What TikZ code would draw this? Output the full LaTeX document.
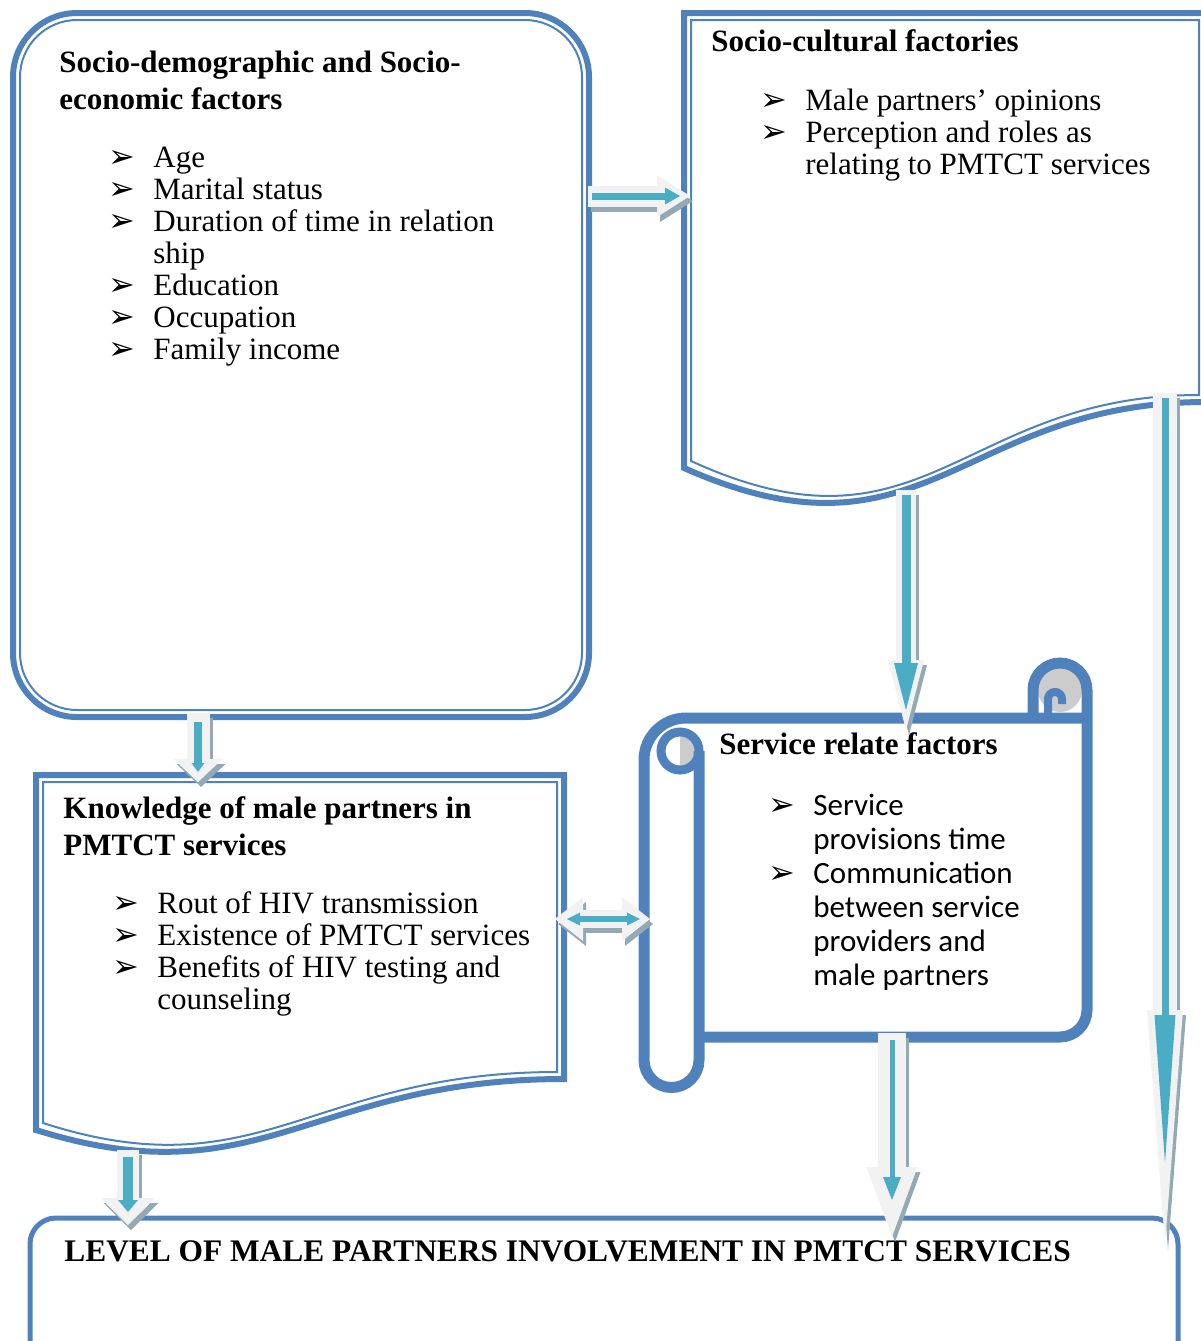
\documentclass[tikz,border=0pt]{standalone}
\usepackage{fontspec}
\setmainfont{Liberation Serif}
\newfontfamily\bulletfont{DejaVu Sans}
\newfontfamily\calibrifont{Carlito}
\usetikzlibrary{arrows.meta}

\definecolor{boxblue}{HTML}{4F81BD}
\definecolor{arrteal}{HTML}{4BACC6}
\definecolor{arrgray}{HTML}{F2F2F2}
\definecolor{arrshadow}{HTML}{93A9B4}
\definecolor{curlgray}{HTML}{CCCCCC}

\newcommand{\blt}{{\bulletfont\fontsize{16}{16}\selectfont ➢}}

\begin{document}
\begin{tikzpicture}[
  x=0.5pt, y=-0.5pt,
  outerline/.style={draw=boxblue,line width=3pt},
  innerline/.style={draw=boxblue,line width=1pt},
  scrollline/.style={draw=boxblue,line width=5.5pt},
  txt/.style={inner sep=0pt,anchor=base west},
  title/.style={txt,font=\fontsize{15.5}{18.5}\selectfont\bfseries},
  items/.style={txt,font=\fontsize{15.5}{16}\selectfont},
  sitems/.style={txt,font=\calibrifont\fontsize{15.5}{17}\selectfont},
  arrshade/.style n args={3}{draw=arrshadow,line width=#1,>={Triangle[length=#2,width=#3,line width=0pt]},->,transform canvas={shift={(1.5pt,-2.5pt)}}},
  arrbody/.style n args={3}{draw=arrgray,line width=#1,>={Triangle[length=#2,width=#3,line width=0pt]},->},
  arrcore/.style n args={3}{draw=arrteal,line width=#1,>={Triangle[length=#2,width=#3,line width=0pt]},->}
]
\useasboundingbox (0,0) rectangle (1201,1341);
\clip (0,0) rectangle (1201,1341);

% boxes
\draw[outerline,rounded corners=32pt] (13,13) rectangle (589,717);
\draw[innerline,rounded corners=28.5pt] (20,20) rectangle (582,710);

\draw[outerline] (684,13) -- (1206,13) -- (1206,402) .. controls (960,402) and (925,575) .. (684,468) -- cycle;
\draw[innerline] (691,20) -- (1199,20) -- (1199,395) .. controls (960,395) and (925,568) .. (691,461) -- cycle;

\draw[outerline] (36,775) -- (564,775) -- (564,1079) .. controls (310,1079) and (260,1200) .. (36,1130) -- cycle;
\draw[innerline] (43,782) -- (557,782) -- (557,1072) .. controls (310,1072) and (260,1193) .. (43,1123) -- cycle;

\fill[curlgray] (680,736.5) arc[start angle=90,end angle=-90,radius=7.25pt] -- cycle;
\fill[curlgray] (1060,690) circle[radius=11pt];
\draw[scrollline] (644,760) -- (644,1060) arc[start angle=180,end angle=360,radius=13.75pt] -- (699,751);
\draw[scrollline] (644,760) arc[start angle=180,end angle=90,radius=21pt] -- (1087,718);
\draw[scrollline] (699,1037) -- (1060,1037) arc[start angle=270,end angle=360,radius=13.5pt]
  -- (1087,690) arc[start angle=0,end angle=180,radius=13.5pt] -- (1033,718);
\draw[boxblue,line width=4.5pt] (680,751) circle[radius=9.5pt];
\draw[boxblue,line width=4pt] (1048,716) -- (1048,699) arc[start angle=180,end angle=0,radius=3.5pt] -- (1062,704);

\draw[draw=boxblue,line width=2.5pt,rounded corners=13pt] (30,1218) rectangle (1178,1380);

% texts
\node[title] (sd-title) at (59,72) {\begin{tabular}[t]{@{}l@{}}Socio-demographic and Socio-\\economic factors\end{tabular}};
\node[items] (sd-list) at (108,167) {\begin{tabular}[t]{@{}p{22.5pt}@{}l@{}}
\blt & Age\\
\blt & Marital status\\
\blt & Duration of time in relation\\
     & ship\\
\blt & Education\\
\blt & Occupation\\
\blt & Family income
\end{tabular}};

\node[title] (sc-title) at (711,51) {Socio-cultural factories};
\node[items] (sc-list) at (760,110) {\begin{tabular}[t]{@{}p{22.5pt}@{}l@{}}
\blt & Male partners’ opinions\\
\blt & Perception and roles as\\
     & relating to PMTCT services
\end{tabular}};

\node[title] (kn-title) at (63,818) {\begin{tabular}[t]{@{}l@{}}Knowledge of male partners in\\PMTCT services\end{tabular}};
\node[items] (kn-list) at (112,913) {\begin{tabular}[t]{@{}p{22.5pt}@{}l@{}}
\blt & Rout of HIV transmission\\
\blt & Existence of PMTCT services\\
\blt & Benefits of HIV testing and\\
     & counseling
\end{tabular}};

\node[title] (sv-title) at (719,754) {Service relate factors};
\node[sitems] (sv-list) at (768,815) {\begin{tabular}[t]{@{}p{22.5pt}@{}l@{}}
\blt & Service\\
     & provisions time\\
\blt & Communication\\
     & between service\\
     & providers and\\
     & male partners
\end{tabular}};

\node[title,font=\fontsize{15.7}{18.5}\selectfont\bfseries] (lv-title) at (64,1261) {LEVEL OF MALE PARTNERS INVOLVEMENT IN PMTCT SERVICES};

% arrow ends
\coordinate (sd-east) at (588,196);
\coordinate (sc-west) at (690,196);
\coordinate (sc-south) at (906,490);
\coordinate (sv-north) at (906,730);
\coordinate (sc-corner) at (1165,393);
\coordinate (lv-corner) at (1165,1245);
\coordinate (sd-south) at (198,713);
\coordinate (kn-north) at (198,782);
\coordinate (kn-east) at (555,919);
\coordinate (sv-west) at (650,919);
\coordinate (kn-south) at (128,1150);
\coordinate (lv-west) at (128,1225);
\coordinate (sv-south) at (892,1033);
\coordinate (lv-north) at (892,1237);

% arrows
\draw[arrshade={10.5pt}{16.5pt}{21pt}] (sd-east) -- (sc-west);
\draw[arrbody={10.5pt}{16.5pt}{21pt}] (sd-east) -- (sc-west);
\draw[arrcore={3.5pt}{7.5pt}{8.5pt},shorten <=2pt,shorten >=5pt] (sd-east) -- (sc-west);

\draw[arrshade={10pt}{35pt}{18pt}] (sc-south) -- (sv-north);
\draw[arrbody={10pt}{35pt}{18pt}] (sc-south) -- (sv-north);
\draw[arrcore={4.5pt}{23.5pt}{12pt},shorten <=2.5pt,shorten >=10pt] (sc-south) -- (sv-north);

\draw[arrshade={12pt}{117.5pt}{18pt}] (sc-corner) -- (lv-corner);
\draw[arrbody={12pt}{117.5pt}{18pt}] (sc-corner) -- (lv-corner);
\draw[arrcore={3.5pt}{74pt}{10.5pt},shorten <=2.5pt,shorten >=41pt] (sc-corner) -- (lv-corner);

\draw[arrshade={11.5pt}{11.5pt}{24.5pt}] (sd-south) -- (kn-north);
\draw[arrbody={11.5pt}{11.5pt}{24.5pt}] (sd-south) -- (kn-north);
\draw[arrcore={4pt}{4.5pt}{6.5pt},shorten <=4.5pt,shorten >=5pt] (sd-south) -- (kn-north);

\draw[arrshade={9pt}{14pt}{22pt},<->] (kn-east) -- (sv-west);
\draw[arrbody={9pt}{14pt}{22pt},<->] (kn-east) -- (sv-west);
\draw[arrcore={3pt}{6.5pt}{6.5pt},<->,shorten <=6pt,shorten >=5pt] (kn-east) -- (sv-west);

\draw[arrshade={11pt}{13.5pt}{27.5pt}] (kn-south) -- (lv-west);
\draw[arrbody={11pt}{13.5pt}{27.5pt}] (kn-south) -- (lv-west);
\draw[arrcore={5pt}{6pt}{10pt},shorten <=3.5pt,shorten >=6.5pt] (kn-south) -- (lv-west);

\draw[arrshade={14pt}{35pt}{25.5pt}] (sv-south) -- (lv-north);
\draw[arrbody={14pt}{35pt}{25.5pt}] (sv-south) -- (lv-north);
\draw[arrcore={2.5pt}{11.5pt}{9pt},shorten <=3.5pt,shorten >=18.5pt] (sv-south) -- (lv-north);

\end{tikzpicture}
\end{document}
